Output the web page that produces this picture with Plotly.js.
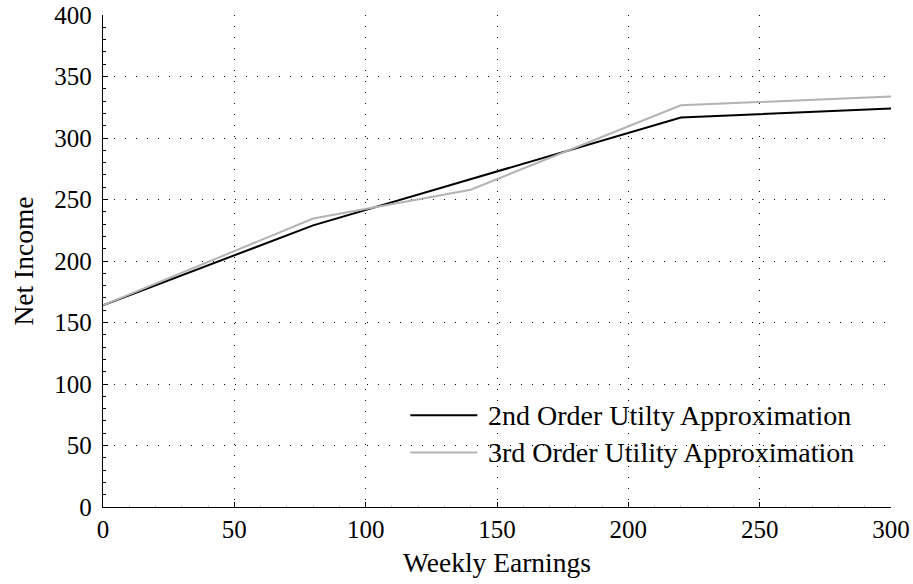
<!DOCTYPE html>
<html>
<head>
<meta charset="utf-8">
<script src="https://cdn.plot.ly/plotly-3.0.1.min.js"></script>
<style>html,body{margin:0;padding:0;background:#fff;}#chart{width:913px;height:584px;}</style>
</head>
<body>
<div id="chart"></div>
<script>
const earnings2nd = [0, 80, 220, 300];
const income2nd = [164, 229, 316.6, 324];
const earnings3rd = [0, 80, 140, 220, 300];
const income3rd = [164, 234.5, 258, 326.6, 333.7];
const seriesNames = ["2nd Order Utilty Approximation", "3rd Order Utility Approximation"];
const seriesColors = ["#000000", "#b3b3b3"];
const xTicks = [0, 50, 100, 150, 200, 250, 300];
const yTicks = [0, 50, 100, 150, 200, 250, 300, 350, 400];

const FONT = "Liberation Serif, Times New Roman, serif";

const traces = [
  {x: earnings2nd, y: income2nd, mode: "lines", name: seriesNames[0],
   line: {color: seriesColors[0], width: 2}, showlegend: false},
  {x: earnings3rd, y: income3rd, mode: "lines", name: seriesNames[1],
   line: {color: seriesColors[1], width: 2}, showlegend: false}
];

// manual legend (line samples + labels)
const legRows = [0.1865, 0.111];
const shapes = legRows.map((yy, i) => ({
  type: "line", xref: "paper", yref: "paper",
  x0: 0.390, x1: 0.475, y0: yy, y1: yy,
  line: {color: seriesColors[i], width: 2}
}));
const annotations = legRows.map((yy, i) => ({
  xref: "paper", yref: "paper", x: 0.4864, y: yy,
  xanchor: "left", yanchor: "middle", showarrow: false,
  text: seriesNames[i], font: {family: FONT, size: 28, color: "#000"}
}));

const axisCommon = {
  showline: true, linecolor: "#000", linewidth: 1.3,
  ticks: "inside", ticklen: 5, tickcolor: "#000", tickwidth: 1,
  showgrid: true, gridcolor: "#000", gridwidth: 1, griddash: "1px,10px",
  zeroline: false, mirror: false,
  tickfont: {family: FONT, size: 25, color: "#000"}
};

const layout = {
  width: 913, height: 584,
  margin: {l: 102.7, r: 22.3, t: 15, b: 77.3},
  paper_bgcolor: "#fff", plot_bgcolor: "#fff",
  showlegend: false,
  xaxis: Object.assign({}, axisCommon, {
    range: [0, 300], tickvals: xTicks, ticktext: xTicks.map(String),
    minor: {dtick: 10, ticks: "inside", ticklen: 2, tickcolor: "#cccccc", showgrid: false},
    title: {text: "Weekly Earnings", font: {family: FONT, size: 27.5, color: "#000"}, standoff: 10}
  }),
  yaxis: Object.assign({}, axisCommon, {
    range: [0, 400], tickvals: yTicks, ticktext: yTicks.map(v => v + "\u2009"),
    minor: {dtick: 10, ticks: "inside", ticklen: 3, tickcolor: "#000", showgrid: false},
    title: {text: "Net Income", font: {family: FONT, size: 27.5, color: "#000"}, standoff: 12}
  }),
  shapes: shapes,
  annotations: annotations
};

Plotly.newPlot("chart", traces, layout, {displayModeBar: false, staticPlot: true});
</script>
</body>
</html>
